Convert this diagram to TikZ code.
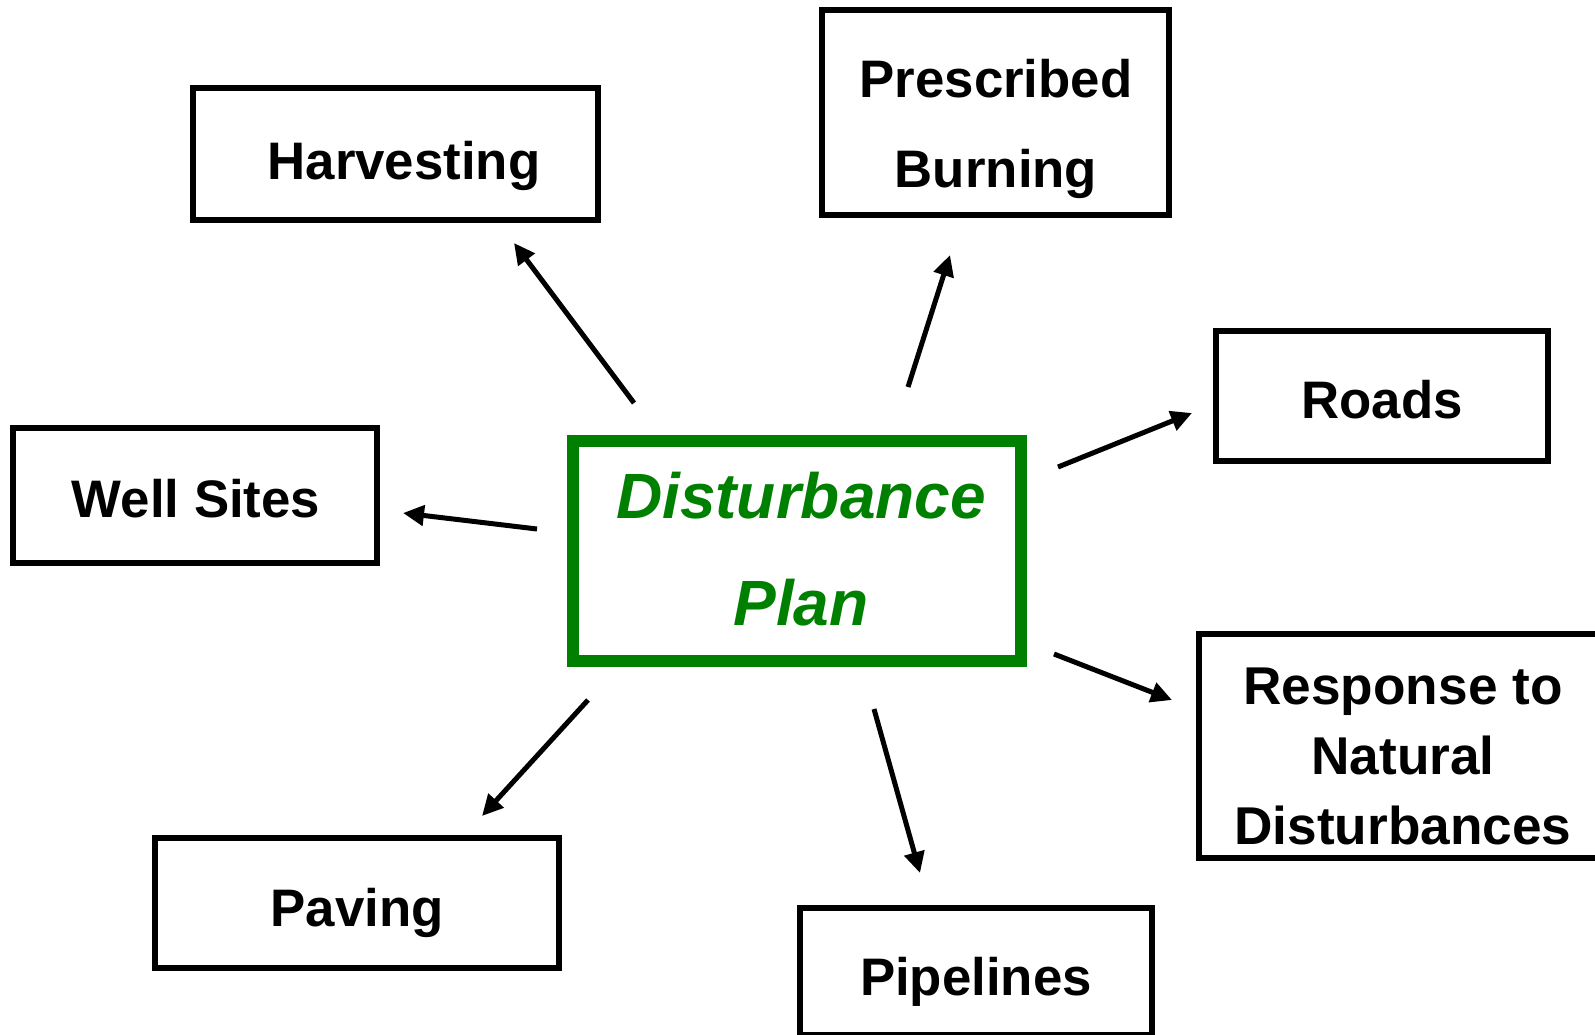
\documentclass[tikz,border=0pt]{standalone}
\usepackage{fontspec}
\setmainfont{Liberation Sans}
\usetikzlibrary{arrows.meta}
\definecolor{plangreen}{RGB}{0,128,0}
\newcommand{\mlines}[1]{\begin{tabular}[t]{@{}c@{}}#1\end{tabular}}
\begin{document}
\begin{tikzpicture}[x=0.5pt,y=-0.5pt,
  box/.style={draw=black, line width=2.8pt, rectangle, inner sep=0pt},
  planbox/.style={draw=plangreen, line width=6pt, rectangle, inner sep=0pt},
  lbl/.style={inner sep=0pt, anchor=base, text=black},
  arr/.style={draw=black, line width=2.5pt, -{Triangle[length=10.5pt,width=10pt]}}]
\useasboundingbox (0,0) rectangle (1595,1034);
\clip (0,0) rectangle (1595,1034);
\fill[white] (0,0) rectangle (1595,1034);
% boxes
\node[box, minimum width=202.5pt, minimum height=66pt] (harv) at (395.5,154) {};
\node[box, minimum width=173.5pt, minimum height=102.5pt] (presc) at (995.5,112.5) {};
\node[box, minimum width=166pt, minimum height=65pt] (roads) at (1382,396) {};
\node[box, minimum width=182pt, minimum height=67.5pt] (well) at (195,495.5) {};
\node[box, minimum width=205.5pt, minimum height=112pt] (resp) at (1404.5,746) {};
\node[box, minimum width=202pt, minimum height=65pt] (paving) at (357,903) {};
\node[box, minimum width=176pt, minimum height=63.5pt] (pipe) at (976,971.5) {};
\node[planbox, minimum width=224pt, minimum height=110pt] (plan) at (797,551) {};
% texts
\node[lbl, font=\fontsize{26.4}{31}\selectfont\bfseries] (harv-t) at (404,179) {Harvesting};
\node[lbl, font=\fontsize{26.4}{45}\selectfont\bfseries] (presc-t) at (996,97) {\mlines{Prescribed\\Burning}};
\node[lbl, font=\fontsize{26.4}{31}\selectfont\bfseries] (roads-t) at (1382,418) {Roads};
\node[lbl, font=\fontsize{26.4}{31}\selectfont\bfseries] (well-t) at (196,517) {Well Sites};
\node[lbl, font=\fontsize{26.6}{35}\selectfont\bfseries] (resp-t) at (1403,704) {\mlines{Response to\\Natural\\Disturbances}};
\node[lbl, font=\fontsize{26.4}{31}\selectfont\bfseries] (paving-t) at (357,926) {Paving};
\node[lbl, font=\fontsize{26.4}{31}\selectfont\bfseries] (pipe-t) at (976,995) {Pipelines};
\node[lbl, text=plangreen, font=\fontsize{32}{53.5}\selectfont\bfseries\itshape] (plan-t) at (801,518) {\mlines{Disturbance\\Plan}};
% arrow end points
\coordinate (a1s) at (634,403); \coordinate (a1e) at (514,243);
\coordinate (a2s) at (908,387); \coordinate (a2e) at (950,255);
\coordinate (a3s) at (1058,467); \coordinate (a3e) at (1192,413);
\coordinate (a4s) at (537,529); \coordinate (a4e) at (403,513);
\coordinate (a5s) at (588,700); \coordinate (a5e) at (482,816);
\coordinate (a6s) at (874,709); \coordinate (a6e) at (920,873);
\coordinate (a7s) at (1054,654); \coordinate (a7e) at (1172,700);
\draw[arr] (a1s) -- (a1e);
\draw[arr] (a2s) -- (a2e);
\draw[arr] (a3s) -- (a3e);
\draw[arr] (a4s) -- (a4e);
\draw[arr] (a5s) -- (a5e);
\draw[arr] (a6s) -- (a6e);
\draw[arr] (a7s) -- (a7e);
\end{tikzpicture}
\end{document}
